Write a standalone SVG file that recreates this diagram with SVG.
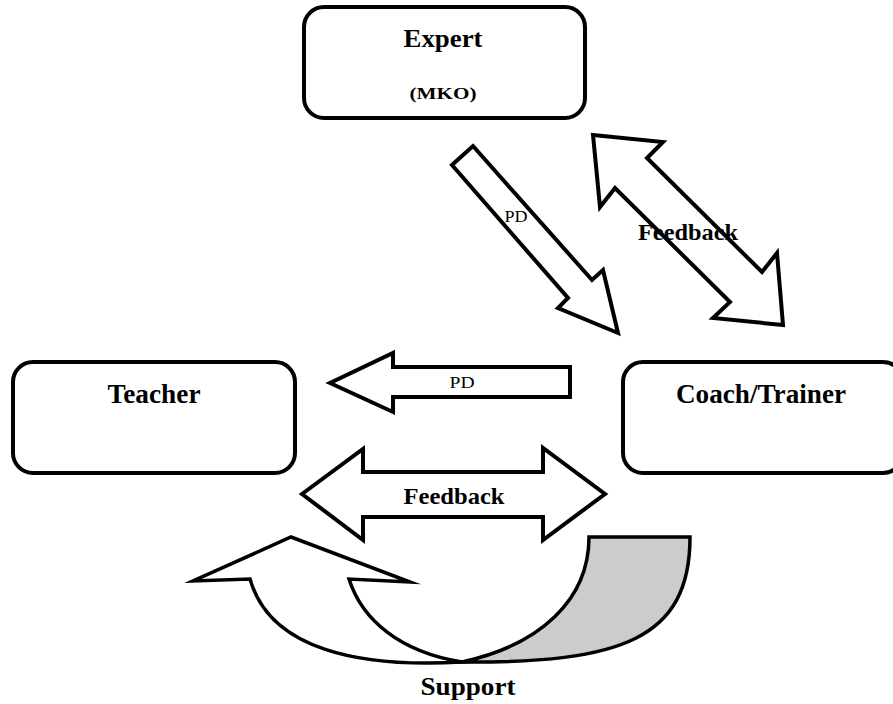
<svg xmlns="http://www.w3.org/2000/svg" width="893" height="704" viewBox="0 0 893 704">
  <style>
    .box { fill: #ffffff; stroke: #000000; stroke-width: 4; }
    .block { fill: #ffffff; stroke: #000000; stroke-width: 4; stroke-linejoin: miter; stroke-miterlimit: 10; }
    .band { stroke: #000000; stroke-width: 3.5; stroke-linejoin: miter; stroke-miterlimit: 10; }
    .lbl { font-family: "Liberation Serif", "Times New Roman", serif; font-weight: bold; fill: #000000; text-anchor: middle; }
    .small { font-family: "Liberation Serif", "Times New Roman", serif; font-weight: normal; fill: #000000; text-anchor: middle; }
  </style>
  <rect width="893" height="704" fill="#ffffff"/>

  <!-- nodes -->
  <g id="expert">
    <rect class="box" x="304" y="7" width="281" height="111" rx="20" ry="20"/>
    <text class="lbl" x="443" y="47" font-size="25" textLength="79" lengthAdjust="spacingAndGlyphs">Expert</text>
    <text class="lbl" x="443" y="99" font-size="17" textLength="67" lengthAdjust="spacingAndGlyphs">(MKO)</text>
  </g>

  <g id="teacher">
    <rect class="box" x="13" y="362" width="282" height="111" rx="20" ry="20"/>
    <text class="lbl" x="154" y="403" font-size="27" textLength="93" lengthAdjust="spacingAndGlyphs">Teacher</text>
  </g>

  <g id="coach">
    <rect class="box" x="623" y="362" width="280" height="111" rx="20" ry="20"/>
    <text class="lbl" x="761" y="403" font-size="27" textLength="170" lengthAdjust="spacingAndGlyphs">Coach/Trainer</text>
  </g>

  <!-- connectors -->
  <g id="connectors">
    <!-- expert to coach: PD -->
    <g id="pd-expert-coach">
      <polygon class="block" points="473,146 592,280 603,270 618,333 558,308 568,298 452,165"/>
      <text class="small" x="516" y="222" font-size="17" textLength="23" lengthAdjust="spacingAndGlyphs">PD</text>
    </g>

    <!-- expert and coach: feedback -->
    <g id="feedback-expert-coach">
      <polygon class="block" points="593,135 663,142 647,158 762,272 777,253 783,325 713,318 730,302 615,188 600,207"/>
      <text class="lbl" x="688" y="240" font-size="24" textLength="100" lengthAdjust="spacingAndGlyphs">Feedback</text>
    </g>

    <!-- coach to teacher: PD -->
    <g id="pd-coach-teacher">
      <polygon class="block" points="570,367 393,367 393,353 330,383 393,412 393,397 570,397"/>
      <text class="small" x="462" y="388" font-size="16" textLength="25" lengthAdjust="spacingAndGlyphs">PD</text>
    </g>

    <!-- teacher and coach: feedback -->
    <g id="feedback-teacher-coach">
      <polygon class="block" points="302,494 363,449 363,472 543,472 543,448 605,494 543,540 543,517 363,517 363,540"/>
      <text class="lbl" x="454" y="504" font-size="24" textLength="101" lengthAdjust="spacingAndGlyphs">Feedback</text>
    </g>

    <!-- support: curved arrow, back face shaded -->
    <g id="support">
      <path class="band" fill="#cccccc" d="M 589 537 L 690 537 C 690 640 620 663 462 662 C 540 645 589 600 589 537 Z"/>
      <path class="band" fill="#ffffff" d="M 462 662 C 360 668 270 650 250 579 L 193 581 L 291 537 L 410 582 L 349 579 C 362 620 400 652 462 662 Z"/>
      <text class="lbl" x="468" y="695" font-size="26" textLength="95" lengthAdjust="spacingAndGlyphs">Support</text>
    </g>
  </g>
</svg>
